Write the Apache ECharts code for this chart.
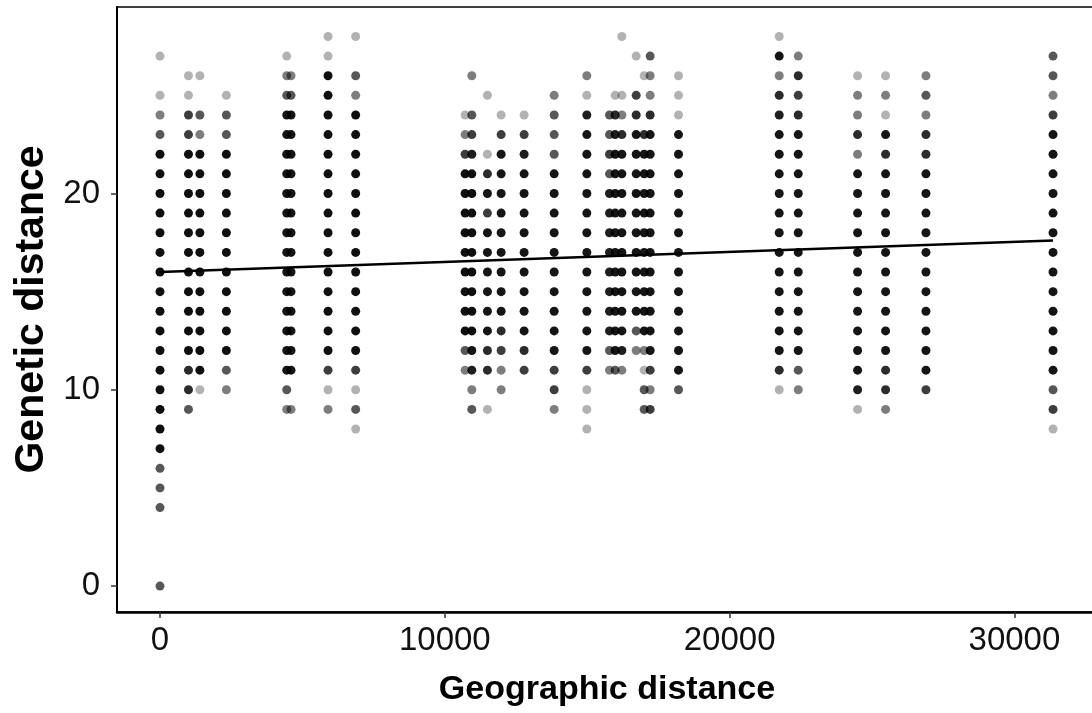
<!DOCTYPE html>
<html>
<head>
<meta charset="utf-8">
<script src="https://cdn.jsdelivr.net/npm/echarts@6/dist/echarts.min.js"></script>
<style>
html,body{margin:0;padding:0;background:#fff;overflow:hidden;}
#chart{width:1100px;height:713px;}
</style>
</head>
<body>
<div id="chart"></div>
<script>
// Tick labels
const xTicks = [0, 10000, 20000, 30000];
const yTicks = [0, 10, 20];

// Geographic distance of each column of points
const colX = [0, 1000, 1400, 2330, 4450, 4600, 5900, 6870,
  10713, 10948, 11497, 11978, 12785, 13840, 14987,
  15783, 15982, 16217, 16720, 17000, 17210, 18206,
  21742, 22410, 24494, 25477, 26894, 31356];

// Number of overlapping observations at genetic distance 0..28 (one digit per value) for each column
const colCounts = [
  "30003 33888 88888 88888 88832 1010",
  "00000 00003 55888 88888 88844 1100",
  "00000 00000 18888 88888 88823 0100",
  "00000 00000 23888 88888 88833 1000",
  "00000 00002 37777 77777 77777 3210",
  "00000 00002 07777 77777 77777 3200",
  "00000 00002 14888 88888 88888 8811",
  "00000 00013 14888 88888 88888 2301",
  "00000 00000 02388 88888 88421 0000",
  "00000 00003 26788 88888 88643 0200",
  "00000 00001 05577 77774 75100 1000",
  "00000 00000 22457 77777 77741 0000",
  "00000 00000 04577 77777 77641 0000",
  "00000 00002 44777 77777 77333 2000",
  "00000 00011 14777 77777 77776 1200",
  "00000 00000 02366 66666 63433 0000",
  "00000 00000 03777 77777 77765 1000",
  "00000 00000 02677 77777 77752 1001",
  "00000 00000 00237 77777 77775 4010",
  "00000 00003 31277 77777 77750 0100",
  "00000 00004 24777 77777 77775 2230",
  "00000 00000 37777 77777 77771 1100",
  "00000 00000 15777 77777 77776 5271",
  "00000 00000 23777 77777 77775 4520",
  "00000 00001 67777 77777 77252 2100",
  "00000 00002 55777 77777 77571 2100",
  "00000 00000 47777 77777 77552 3200",
  "00000 00014 37777 77777 77774 2330"
];

// Fitted linear trend endpoints
const lineX = [0, 31356];
const lineY = [16.0, 17.6];

const alpha = 0.3;
const points = [];
colX.forEach(function (x, i) {
  const s = colCounts[i].replace(/\s+/g, '');
  for (let y = 0; y < s.length; y++) {
    const n = +s[y];
    if (n > 0) {
      points.push({ value: [x, y], itemStyle: { opacity: 1 - Math.pow(1 - alpha, n) } });
    }
  }
});
const lineData = lineX.map(function (x, i) { return [x, lineY[i]]; });

const chart = echarts.init(document.getElementById('chart'), null, { renderer: 'canvas' });
const font = 'Liberation Sans, Arial, sans-serif';
chart.setOption({
  animation: false,
  backgroundColor: '#fff',
  grid: { left: 117, top: 7, right: 3, bottom: 101, show: true, borderColor: '#000', borderWidth: 1.5, backgroundColor: 'transparent' },
  xAxis: {
    type: 'value', min: -1510, max: 32900,
    name: 'Geographic distance', nameLocation: 'middle', nameGap: 61,
    nameTextStyle: { fontFamily: font, fontSize: 34, fontWeight: 'bold', color: '#000' },
    axisLine: { show: true, onZero: false, lineStyle: { color: '#000', width: 2.5 } },
    axisTick: { show: true, length: 6, lineStyle: { color: '#333', width: 1.5 }, customValues: xTicks },
    axisLabel: { customValues: xTicks, margin: 12, fontFamily: font, fontSize: 33, color: '#111',
      formatter: function (v) { return String(v); } },
    splitLine: { show: false }
  },
  yAxis: {
    type: 'value', min: -1.32, max: 29.5,
    name: 'Genetic distance', nameLocation: 'middle', nameGap: 65,
    nameTextStyle: { fontFamily: font, fontSize: 41, fontWeight: 'bold', color: '#000' },
    axisLine: { show: true, onZero: false, lineStyle: { color: '#000', width: 2 } },
    axisTick: { show: true, length: 6, lineStyle: { color: '#333', width: 1.5 }, customValues: yTicks },
    axisLabel: { customValues: yTicks, margin: 17, fontFamily: font, fontSize: 33, color: '#111',
      formatter: function (v) { return String(v); } },
    splitLine: { show: false }
  },
  series: [
    {
      type: 'scatter', data: points, symbol: 'circle', symbolSize: 9,
      itemStyle: { color: '#000' }, progressive: 0, silent: true, z: 2
    },
    {
      type: 'line', data: lineData, symbol: 'none', silent: true, z: 3,
      lineStyle: { color: '#000', width: 2.5 }
    }
  ]
});
</script>
</body>
</html>
